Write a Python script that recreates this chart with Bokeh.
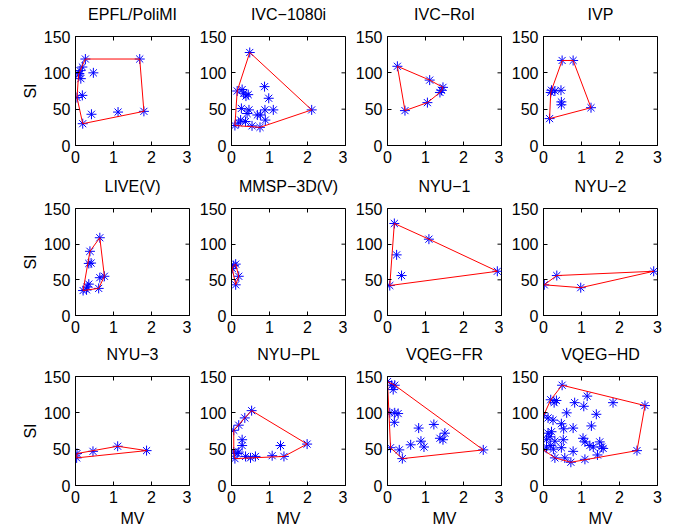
import math
from bokeh.plotting import figure
from bokeh.layouts import gridplot
from bokeh.models import FixedTicker, Range1d, Label
from bokeh.embed import file_html
from bokeh.resources import INLINE

FONT = "Liberation Sans"

# Motion (MV) and spatial information (SI) per video database
epfl_mv = [0.26, 1.69, 1.80, 1.12, 0.42, 0.19, 0.04, 0.18, 0.47, 0.10, 0.14, 0.18, 0.08, 0.12]
epfl_si = [119, 119, 47, 46, 43, 30, 66, 69, 100, 99, 92, 108, 97, 103]

ivc1080_mv = [0.48, 2.11, 0.09, 0.75, 0.15, 0.87, 0.98, 1.10, 0.88, 0.89, 0.76, 0.32, 0.38, 0.28,
              0.44, 0.26, 0.46, 0.41, 0.24, 0.37, 0.54, 0.19, 0.68]
ivc1080_si = [128, 49, 27.5, 25, 75, 81, 65, 49, 49, 35, 42, 72, 68, 77,
              70, 51, 49, 44, 35, 33, 27, 31, 42]

ivcroi_mv = [0.26, 1.11, 1.46, 1.38, 1.05, 0.46, 1.42]
ivcroi_si = [109, 90, 80, 73, 59, 48, 76]

ivp_mv = [0.49, 0.78, 1.25, 0.16, 0.19, 0.30, 0.46, 0.21, 0.47, 0.47]
ivp_si = [117, 117, 52, 37, 73, 75, 76, 76, 60, 56]

live_mv = [0.64, 0.38, 0.35, 0.41, 0.76, 0.64, 0.61, 0.20, 0.29, 0.35, 0.31]
live_si = [109, 90, 73, 73.5, 55, 53, 38, 35, 36, 44, 40]

mmsp_mv = [0.11, 0.02, 0.06, 0.19, 0.11]
mmsp_si = [72, 66, 70, 55, 43]

nyu1_mv = [0.18, 1.09, 2.89, 0.06, 0.24, 0.37]
nyu1_si = [129, 107, 62, 42, 85, 56]

nyu2_mv = [0.02, 0.35, 0.98, 2.90]
nyu2_si = [43, 56, 39, 62]

nyu3_mv = [0.03, 0.04, 0.46, 1.11, 1.87]
nyu3_si = [38, 44, 47, 54, 48]

nyupl_mv = [0.53, 1.99, 1.38, 0.09, 0.06, 0.19, 0.35, 0.28, 0.28, 0.06, 0.19, 0.37, 0.50,
            0.63, 1.07, 1.29, 0.15]
nyupl_si = [103, 57, 40, 37, 76, 83, 93, 63, 55, 46, 46, 40, 38, 40, 41, 55, 44]

vqegfr_mv = [0.00, 0.11, 0.19, 0.15, 2.52, 0.39, 0.08, 0.31, 0.06, 0.19, 0.28, 0.18, 0.82,
             1.22, 1.51, 1.38, 1.46, 0.88, 0.96, 0.61]
vqegfr_si = [143, 138, 138, 132, 49, 37, 52, 49, 100, 100, 99, 87, 79, 84, 72, 65, 63, 61, 53, 56]

vqeghd_mv = [0.49, 2.67, 2.46, 0.72, 0.30, 0.00, 0.00, 0.19, 0.28, 0.34, 1.15, 0.82, 1.06, 1.83,
             1.39, 0.61, 0.12, 0.25, 0.47, 0.53, 0.78, 1.26, 0.12, 0.21, 0.17, 0.08, 0.30, 0.52,
             0.47, 0.19, 0.26, 0.08, 1.04, 1.09, 1.22, 1.31, 1.48, 1.53, 1.57, 0.78, 0.56, 1.09,
             1.42]
vqeghd_si = [138, 110, 48, 32, 38, 49, 96, 118, 114, 117, 123, 114, 109, 114, 98, 100, 93, 90,
             85, 78, 79, 82, 72, 74, 67, 63, 61, 63, 52, 55, 50, 53, 65, 60, 55, 53, 60, 53, 51,
             47, 38, 36, 42]

titles = ["EPFL/PoliMI", "IVC\u22121080i", "IVC\u2212RoI", "IVP",
          "LIVE(V)", "MMSP\u22123D(V)", "NYU\u22121", "NYU\u22122",
          "NYU\u22123", "NYU\u2212PL", "VQEG\u2212FR", "VQEG\u2212HD"]
series = [(epfl_mv, epfl_si), (ivc1080_mv, ivc1080_si), (ivcroi_mv, ivcroi_si), (ivp_mv, ivp_si),
          (live_mv, live_si), (mmsp_mv, mmsp_si), (nyu1_mv, nyu1_si), (nyu2_mv, nyu2_si),
          (nyu3_mv, nyu3_si), (nyupl_mv, nyupl_si), (vqegfr_mv, vqegfr_si), (vqeghd_mv, vqeghd_si)]

x_ticks = [0, 1, 2, 3]
y_ticks = [0, 50, 100, 150]
X_MAX = x_ticks[-1]
Y_MAX = y_ticks[-1]


def convex_hull(xs, ys):
    pts = sorted(set(zip(xs, ys)))
    if len(pts) < 3:
        return pts + pts[:1]

    def cross(o, a, b):
        return (a[0] - o[0]) * (b[1] - o[1]) - (a[1] - o[1]) * (b[0] - o[0])

    lower, upper = [], []
    for pt in pts:
        while len(lower) >= 2 and cross(lower[-2], lower[-1], pt) <= 0:
            lower.pop()
        lower.append(pt)
    for pt in reversed(pts):
        while len(upper) >= 2 and cross(upper[-2], upper[-1], pt) <= 0:
            upper.pop()
        upper.append(pt)
    hull = lower[:-1] + upper[:-1]
    return hull + hull[:1]


FRAME_W = 114
TICK_LEN = 4
TITLE_GAP = 22
col_left = [75, 40, 40, 40]
col_right = [2, 2, 2, 19]
row_top = [36, 33, 31]
row_frame_h = [109, 107, 109]
row_bottom = [30, 30, 46]


def style_axis(ax, ticks):
    ax.ticker = FixedTicker(ticks=ticks)
    ax.major_tick_in = TICK_LEN
    ax.major_tick_out = 0
    ax.minor_tick_line_color = None
    ax.major_tick_line_color = "black"
    ax.major_tick_line_width = 1
    ax.axis_line_color = "black"
    ax.major_label_text_font = FONT
    ax.major_label_text_font_size = "16px"
    ax.major_label_text_color = "black"
    ax.major_label_standoff = 5
    ax.axis_label_text_font = FONT
    ax.axis_label_text_font_size = "16px"
    ax.axis_label_text_font_style = "normal"
    ax.axis_label_text_color = "black"


figs = []
for i, (title, (mv, si)) in enumerate(zip(titles, series)):
    r, c = divmod(i, 4)
    p = figure(
        width=col_left[c] + FRAME_W + col_right[c],
        height=row_top[r] + row_frame_h[r] + row_bottom[r],
        x_range=Range1d(0, X_MAX), y_range=Range1d(0, Y_MAX),
        output_backend="svg", toolbar_location=None,
        min_border_left=col_left[c], min_border_right=col_right[c],
        min_border_top=row_top[r], min_border_bottom=row_bottom[r],
    )
    p.grid.visible = False
    p.outline_line_color = "black"
    p.outline_line_width = 1
    p.background_fill_color = "white"
    p.border_fill_color = "white"

    style_axis(p.xaxis[0], x_ticks)
    style_axis(p.yaxis[0], y_ticks)
    if c == 0:
        p.yaxis[0].axis_label = "SI"
        p.yaxis[0].axis_label_standoff = 2
    if r == 2:
        p.xaxis[0].axis_label = "MV"
        p.xaxis[0].axis_label_standoff = 4

    # panel title, centred a fixed distance above the box (in the top margin)
    p.add_layout(Label(x=X_MAX / 2, y=Y_MAX, y_offset=TITLE_GAP, text=title,
                       text_font=FONT, text_font_size="16px", text_color="black",
                       text_align="center", text_baseline="middle"), "above")

    # inward tick marks on the top and right edges of the box
    p.ray(x=x_ticks, y=[Y_MAX] * len(x_ticks), length=TICK_LEN, length_units="screen",
          angle=-math.pi / 2, line_color="black", line_width=1)
    p.ray(x=[X_MAX] * len(y_ticks), y=y_ticks, length=TICK_LEN, length_units="screen",
          angle=math.pi, line_color="black", line_width=1)

    p.scatter(mv, si, marker="asterisk", size=10, line_color="#0000ff", line_width=1)
    hull = convex_hull(mv, si)
    p.line([h[0] for h in hull], [h[1] for h in hull], line_color="#ff0000", line_width=1)
    figs.append(p)

grid = gridplot([figs[0:4], figs[4:8], figs[8:12]], toolbar_location=None)

open("out.html", "w").write(file_html(grid, INLINE))
